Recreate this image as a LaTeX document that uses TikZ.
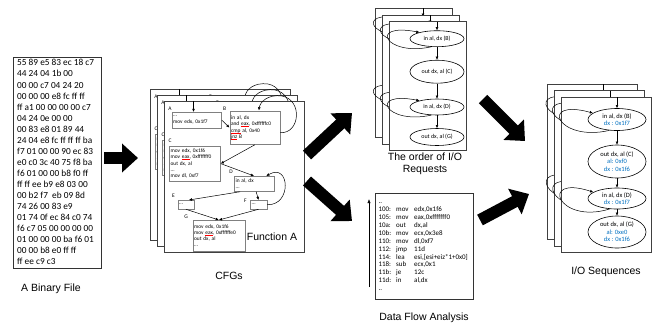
\documentclass[tikz,border=0pt]{standalone}
\usepackage{fontspec}
\setmainfont{Liberation Sans}
\newfontfamily\calfont{Carlito}
\usetikzlibrary{arrows.meta,shapes.geometric,calc}
\definecolor{iob}{RGB}{0,112,192}
\newcommand\sqz[1]{\leavevmode\setbox0\hbox{#1}\rlap{\textcolor{red}{\rule[-0.8pt]{\wd0}{0.3pt}}}\box0\relax}
\newcommand\dfl[3]{\makebox[17.7pt][l]{#1}\makebox[18pt][l]{#2}#3}

\tikzset{
 page/.style={draw=black!75, fill=white, line width=0.55pt},
 cfgbox/.style={draw=black!50, line width=0.75pt, fill=white, anchor=north west, inner sep=1.2pt, align=left, font=\calfont\fontsize{5.4}{6.3}\selectfont},
 cfglbl/.style={font=\calfont\fontsize{5.5}{6}\selectfont, inner sep=0},
 conn/.style={line width=0.5pt, -{Latex[length=3.2pt,width=2.8pt]}},
 oell/.style={ellipse, draw, line width=0.6pt, fill=white, inner sep=0, minimum width=54pt, minimum height=16pt, font=\calfont\fontsize{6}{7}\selectfont},
 sell/.style={ellipse, draw, line width=0.6pt, fill=white, inner sep=0, minimum width=58pt, align=center, font=\calfont\fontsize{6.5}{7.4}\selectfont},
 lbl/.style={font=\fontsize{10.5}{12.5}\selectfont, inner sep=0, align=center},
 bigarr/.style={line width=12pt, -{Triangle[length=16pt,width=28pt]}},
}

\newcommand\cfgcontent{%
  \draw[page] (164,101) rectangle (304,252);
  \coordinate (topA) at (193.5,101);
  \node[cfglbl] (lA) at (170,108.5) {A};
  \node[cfglbl] (lB) at (224.5,109) {B};
  \node[cfglbl] (lC) at (170,141) {C};
  \node[cfglbl] (lD) at (231,172) {D};
  \node[cfglbl] (lE) at (173.5,196) {E};
  \node[cfglbl] (lF) at (245.5,200.5) {F};
  \node[cfglbl] (lG) at (186,216.5) {G};
  \node[cfgbox, text width=47.1pt, minimum height=15.5pt] (A) at (171.5,112) {...\\mov edx, 0x1f7};
  \node[cfgbox, text width=47.6pt, minimum height=33.5pt] (B) at (229.5,110.5) {in al, dx\\and \sqz{eax}, 0xffffffc0\\\sqz{cmp} al, 0x40\\\sqz{jnz} B};
  \node[cfgbox, text width=48.6pt, minimum height=34.5pt] (C) at (169,146) {mov edx, 0x1f6\\mov \sqz{eax}, 0xfffffff0\\out dx, al\\...\\mov dl, 0xf7};
  \node[cfgbox, text width=37.1pt, minimum height=15pt] (D) at (234,176) {in al, dx\\...};
  \node[cfgbox, text width=13.6pt, minimum height=8.5pt] (E) at (177.5,200) {...};
  \node[cfgbox, text width=14.1pt, minimum height=8.5pt] (F) at (250,200) {...};
  \node[cfgbox, text width=49.6pt, minimum height=30.5pt] (G) at (192.5,220) {mov edx, 0x1f6\\mov \sqz{eax}, 0xffffffe0\\out dx, al\\...};
  \draw[conn] (topA) -- (topA |- A.north);
  \draw[conn] (A.east) -- (B.west);
  \draw[conn] ($(B.east)+(0,5)$) .. controls (300,134) and (303,100) .. (282,96)
              .. controls (268,94) and (260,102) .. ($(B.north)+(4,0)$);
  \draw[conn] (B.south) -- (C.east);
  \draw[conn] (C.east) -- (D.north);
  \draw[conn] ($(D.south west)+(6,0)$) -- ($(E.north)+(3,0)$);
  \draw[conn] ($(D.south)+(2,0)$) -- (F.north);
  \draw[conn] (F.east) .. controls (292,206) and (290,162) .. ($(D.north east)+(-8,0)$);
  \draw[conn] (E.south) -- (G.north);
  \draw[conn] (F.south) -- (G.north);
}

\newcommand\ordercontent{%
  \draw[page] (389,21.5) rectangle (466,150.5);
  \coordinate (top) at (437,21.5);
  \node[oell] (B) at (437,38.7) {in al, dx (B)};
  \node[oell, minimum height=23pt] (C) at (437,71.7) {out dx, al (C)};
  \node[oell] (D) at (437,107) {in al, dx (D)};
  \node[oell, minimum height=17pt] (G) at (437,137) {out dx, al (G)};
  \draw[conn] (top) -- (B);
  \draw[conn] (B) -- (C);
  \draw[conn] (C) -- (D);
  \draw[conn] (D) -- (G);
  \draw[conn] (B.235) .. controls +(-46,10) and +(-52,-10) .. (B.160);
  \draw[conn] (D.235) .. controls +(-46,10) and +(-52,-10) .. (D.160);
}

\newcommand\seqcontent{%
  \draw[page] (561,97) rectangle (651,252.5);
  \coordinate (top) at (617,97);
  \node[sell, minimum height=22pt] (B) at (617,119.5) {in al, dx (B)\\\textcolor{iob}{dx : 0x1f7}};
  \node[sell, minimum height=33pt] (C) at (617,161.5) {out dx, al (C)\\\textcolor{iob}{al: 0xf0}\\\textcolor{iob}{dx : 0x1f6}};
  \node[sell, minimum height=21pt] (D) at (617,198.5) {in al, dx (D)\\\textcolor{iob}{dx : 0x1f7}};
  \node[sell, minimum height=32pt] (G) at (617,232) {out dx, al (G)\\\textcolor{iob}{al: 0xe0}\\\textcolor{iob}{dx : 0x1f6}};
  \draw[conn] (top) -- (B);
  \draw[conn] (B) -- (C);
  \draw[conn] (C) -- (D);
  \draw[conn] (D) -- (G);
  \draw[conn] (B.235) .. controls +(-52,12) and +(-55,-15) .. (B.165);
  \draw[conn] (D.235) .. controls +(-52,16) and +(-55,-18) .. (D.165);
}

\begin{document}
\begin{tikzpicture}[x=1pt,y=-1pt]
\useasboundingbox (0,0) rectangle (656,325);

% binary file
\node[draw=black!80, line width=0.6pt, anchor=north west, minimum width=88pt, minimum height=211pt, inner sep=0] (bin) at (13,57) {};
\node[anchor=north west, inner sep=0, align=left, font=\calfont\fontsize{9.3}{11.05}\selectfont] (bintext) at (17,58)
 {\strut 55 89 e5 83 ec 18 c7\\44 24 04 1b 00\\00 00 c7 04 24 20\\00 00 00 e8 fc ff ff\\ff a1 00 00 00 00 c7\\04 24 0e 00 00\\00 83 e8 01 89 44\\24 04 e8 fc ff ff ff ba\\f7 01 00 00 90 ec 83\\e0 c0 3c 40 75 f8 ba\\f6 01 00 00 b8 f0 ff\\ff ff ee b9 e8 03 00\\00 b2 f7\ \ eb 09 8d\\74 26 00 83 e9\\01 74 0f ec 84 c0 74\\f6 c7 05 00 00 00 00\\01 00 00 00 ba f6 01\\00 00 b8 e0 ff ff\\ff ee c9 c3};
\node[lbl] (binlbl) at (51,289) {A Binary File};

% CFG stack
\begin{scope}[shift={(-14,-12)}, name prefix=cb-] \cfgcontent \end{scope}
\begin{scope}[shift={(-7,-6)}, name prefix=cm-] \cfgcontent \end{scope}
\begin{scope}[name prefix=cf-] \cfgcontent \end{scope}
\node[lbl] (funA) at (272,237) {Function A};
\node[lbl] (cfglbl) at (229,276) {CFGs};

% order of I/O requests
\begin{scope}[shift={(-14,-13.5)}, name prefix=ob-] \ordercontent \end{scope}
\begin{scope}[shift={(-7,-6.5)}, name prefix=om-] \ordercontent \end{scope}
\begin{scope}[name prefix=of-] \ordercontent \end{scope}
\node[lbl] (ordlbl) at (425,164) {The order of I/O\\Requests};

% data flow analysis
\node[draw=black!80, line width=0.6pt, anchor=north west, minimum width=98pt, minimum height=106pt, inner sep=0] (dfa) at (375,193) {};
\node[anchor=north west, inner sep=0, align=left, font=\calfont\fontsize{7}{7.9}\selectfont] (dfatext) at (378.3,198)
 {\strut ..\\\dfl{100:}{mov}{edx,0x1f6}\\\dfl{105:}{mov}{eax,0xfffffff0}\\\dfl{10a:}{out}{dx,al}\\\dfl{10b:}{mov}{ecx,0x3e8}\\\dfl{110:}{mov}{dl,0xf7}\\\dfl{112:}{jmp}{11d}\\\dfl{114:}{lea}{esi,[esi+eiz*1+0x0]}\\\dfl{118:}{sub}{ecx,0x1}\\\dfl{11b:}{je}{12c}\\\dfl{11d:}{in}{al,dx}\\..};
\coordinate (dfaS) at (369,287);
\coordinate (dfaE) at (369,199);
\draw[line width=0.6pt, -{Latex[length=4pt,width=3.2pt]}] (dfaS) -- (dfaE);
\node[lbl] (dfalbl) at (424,318) {Data Flow Analysis};

% I/O sequences
\begin{scope}[shift={(-13.5,-13)}, name prefix=sb-] \seqcontent \end{scope}
\begin{scope}[shift={(-7,-6.5)}, name prefix=sm-] \seqcontent \end{scope}
\begin{scope}[name prefix=sf-] \seqcontent \end{scope}
\node[lbl] (seqlbl) at (606,272) {I/O Sequences};

% big arrows
\coordinate (a1s) at (104,158); \coordinate (a1e) at (138,158);
\coordinate (a2s) at (307,155); \coordinate (a2e) at (352,113);
\coordinate (a3s) at (307,181); \coordinate (a3e) at (352,221);
\coordinate (a4s) at (483,99);  \coordinate (a4e) at (525,141);
\coordinate (a5s) at (480,220); \coordinate (a5e) at (529,194);
\draw[bigarr] (a1s) -- (a1e);
\draw[bigarr] (a2s) -- (a2e);
\draw[bigarr] (a3s) -- (a3e);
\draw[bigarr] (a4s) -- (a4e);
\draw[bigarr] (a5s) -- (a5e);
\end{tikzpicture}
\end{document}
